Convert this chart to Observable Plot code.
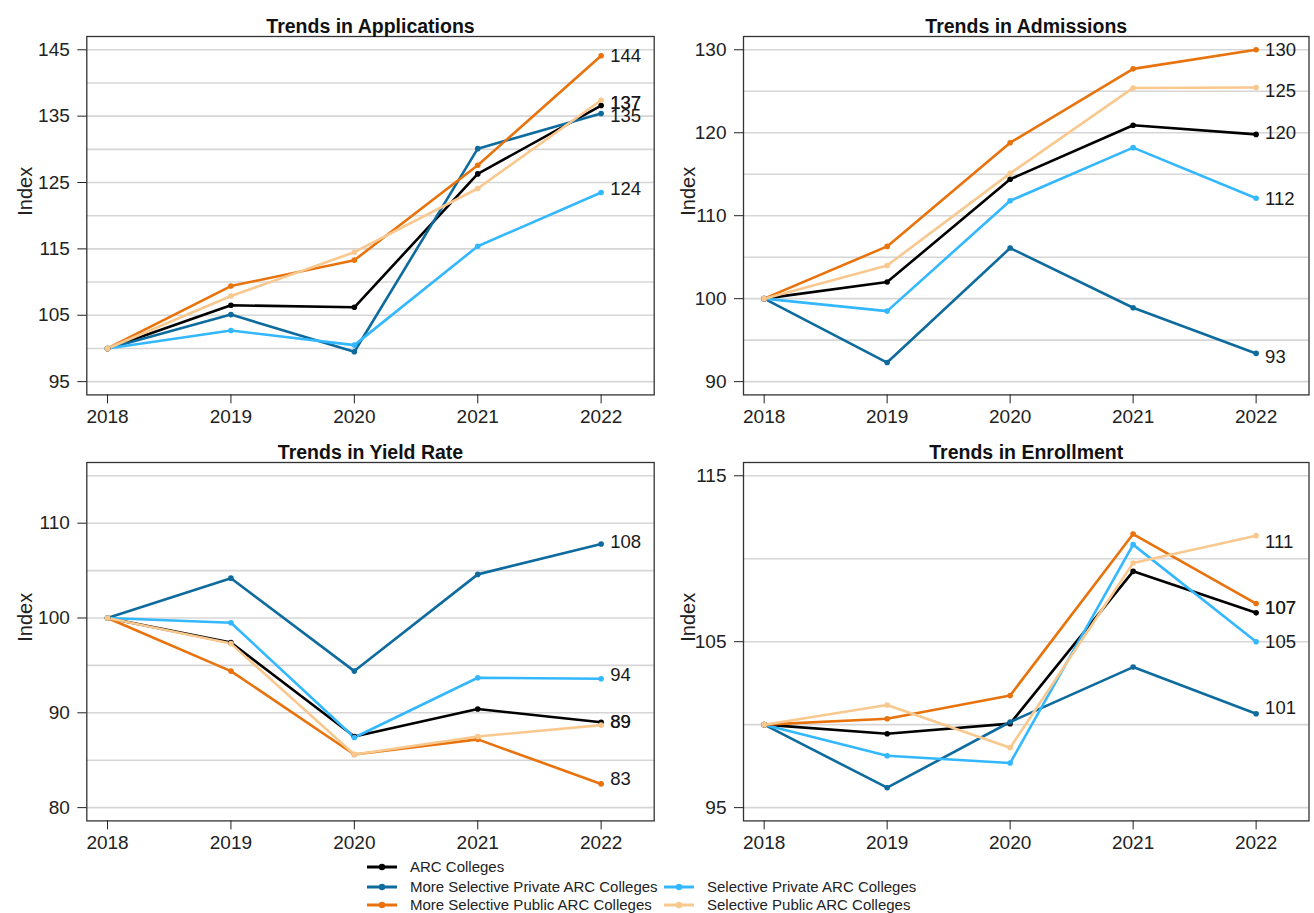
<!DOCTYPE html>
<html>
<head>
<meta charset="utf-8">
<script src="https://cdn.jsdelivr.net/npm/d3@7"></script>
<script src="https://cdn.jsdelivr.net/npm/@observablehq/plot@0.6"></script>
<style>
  body { margin: 0; background: #fff; font-family: "Liberation Sans", Arial, sans-serif; }
  #root { position: relative; width: 1314px; height: 913px; overflow: hidden; background: #fff; }
  .panel { position: absolute; }
  .legend-item { position: absolute; height: 18px; line-height: 18px; font-size: 15px; color: #222; display: flex; align-items: center; white-space: nowrap; }
  .legend-item svg { margin-right: 13px; }
</style>
</head>
<body>
<div id="root"></div>
<script>
// ---------- data ----------
const years = [2018, 2019, 2020, 2021, 2022];
const seriesNames = [
  "ARC Colleges",
  "More Selective Private ARC Colleges",
  "Selective Private ARC Colleges",
  "More Selective Public ARC Colleges",
  "Selective Public ARC Colleges"
];
const seriesColors = ["#000000", "#0E6B9E", "#33B8FF", "#E8720C", "#F9C88F"];

// values per series, in the order of seriesNames
const applications = [
  [100, 106.5, 106.2, 126.3, 136.6],
  [100, 105.1, 99.5, 130.1, 135.4],
  [100, 102.7, 100.5, 115.4, 123.5],
  [100, 109.4, 113.3, 127.6, 144.1],
  [100, 107.9, 114.5, 124.1, 137.4]
];
const admissions = [
  [100, 102.0, 114.4, 120.9, 119.8],
  [100, 92.3, 106.1, 98.9, 93.4],
  [100, 98.5, 111.8, 118.2, 112.1],
  [100, 106.3, 118.8, 127.7, 130.0],
  [100, 104.0, 115.1, 125.4, 125.45]
];
const yieldRate = [
  [100, 97.4, 87.5, 90.4, 89.0],
  [100, 104.2, 94.4, 104.6, 107.8],
  [100, 99.5, 87.4, 93.7, 93.6],
  [100, 94.4, 85.6, 87.2, 82.5],
  [100, 97.3, 85.6, 87.5, 88.7]
];
const enrollment = [
  [100, 99.45, 100.06, 109.24, 106.74],
  [100, 96.2, 100.16, 103.47, 100.66],
  [100, 98.13, 97.69, 110.85, 105.0],
  [100, 100.36, 101.76, 111.49, 107.3],
  [100, 101.18, 98.61, 109.74, 111.39]
];

const titles = ["Trends in Applications", "Trends in Admissions", "Trends in Yield Rate", "Trends in Enrollment"];
const yLimits = [[95, 145], [90, 130], [80, 115], [95, 115]];
const yTickLabels = [[95, 105, 115, 125, 135, 145], [90, 100, 110, 120, 130], [80, 90, 100, 110], [95, 105, 115]];
const gridStep = 5;
const yAxisTitle = "Index";

// ---------- drawing ----------
const root = document.getElementById("root");
const FONT = "'Liberation Sans', Arial, sans-serif";

function tidy(values) {
  const rows = [];
  values.forEach((vals, si) => {
    vals.forEach((v, yi) => rows.push({series: seriesNames[si], year: years[yi], value: v}));
  });
  return rows;
}

function panel(values, title, lim, ticks, opts) {
  const rows = tidy(values);
  const last = rows.filter(d => d.year === years[years.length - 1]);
  const expand = (lim[1] - lim[0]) * 0.04;
  const grid = d3.range(lim[0], lim[1] + 0.001, gridStep);
  return Plot.plot({
    width: opts.width,
    height: opts.height,
    marginLeft: opts.marginLeft,
    marginRight: opts.marginRight,
    marginTop: 36,
    marginBottom: opts.height - 36 - 358.4,
    style: {fontFamily: FONT, background: "transparent", color: "#222", overflow: "visible"},
    x: {type: "linear", domain: [2017.832, 2022.43]},
    y: {domain: [lim[0] - expand, lim[1] + expand]},
    color: {domain: seriesNames, range: seriesColors},
    marks: [
      Plot.ruleY(grid, {stroke: "#d6d6d6", strokeWidth: 1.6}),
      Plot.line(rows, {x: "year", y: "value", z: "series", stroke: "series", strokeWidth: 2.6}),
      Plot.dot(rows, {x: "year", y: "value", fill: "series", r: 2.8}),
      Plot.text(last, {x: "year", y: d => Math.round(d.value), text: d => String(Math.round(d.value)),
        dx: 9, textAnchor: "start", fontSize: 18.5, fill: "#1a1a1a"}),
      Plot.frame({stroke: "#333", strokeWidth: 1.3}),
      Plot.axisX({ticks: years, tickFormat: d => String(d), tickSize: 9, tickPadding: 6, fontSize: 19, label: null}),
      Plot.axisY({ticks: ticks, tickSize: 9, tickPadding: 8, fontSize: 19, label: null}),
      Plot.text([title], {frameAnchor: "top", dy: -17, fontWeight: "bold", fontSize: 19.5, fill: "#111"}),
      Plot.text([yAxisTitle], {frameAnchor: "left", dx: opts.indexX - opts.marginLeft, rotate: -90, fontSize: 20, fill: "#222"})
    ]
  });
}

const layouts = [
  {left: 0, top: 0, width: 660, height: 426, marginLeft: 86.3, marginRight: 6.3, indexX: 25},
  {left: 660, top: 0, width: 654, height: 426, marginLeft: 83, marginRight: 5.5, indexX: 688},
  {left: 0, top: 426, width: 660, height: 430, marginLeft: 86.3, marginRight: 6.3, indexX: 25},
  {left: 660, top: 426, width: 654, height: 430, marginLeft: 83, marginRight: 5.5, indexX: 688}
];
const datasets = [applications, admissions, yieldRate, enrollment];

layouts.forEach((L, i) => {
  const opts = {...L, indexX: L.indexX - L.left};
  const el = panel(datasets[i], titles[i], yLimits[i], yTickLabels[i], opts);
  el.classList.add("panel");
  el.style.left = L.left + "px";
  el.style.top = L.top + "px";
  root.appendChild(el);
});

// ---------- legend ----------
const legendPlacement = [
  {col: 0, row: 0},
  {col: 0, row: 1},
  {col: 1, row: 1},
  {col: 0, row: 2},
  {col: 1, row: 2}
];
const legendColX = [367, 664];
const legendRowY = [867, 887, 905];
seriesNames.forEach((name, i) => {
  const p = legendPlacement[i];
  const item = document.createElement("div");
  item.className = "legend-item";
  item.style.left = legendColX[p.col] + "px";
  item.style.top = (legendRowY[p.row] - 9) + "px";
  const key = d3.create("svg").attr("width", 30).attr("height", 10);
  key.append("line").attr("x1", 0).attr("x2", 30).attr("y1", 5).attr("y2", 5)
    .attr("stroke", seriesColors[i]).attr("stroke-width", 3);
  key.append("circle").attr("cx", 15).attr("cy", 5).attr("r", 3.2).attr("fill", seriesColors[i]);
  item.appendChild(key.node());
  const span = document.createElement("span");
  span.textContent = name;
  item.appendChild(span);
  root.appendChild(item);
});
</script>
</body>
</html>
